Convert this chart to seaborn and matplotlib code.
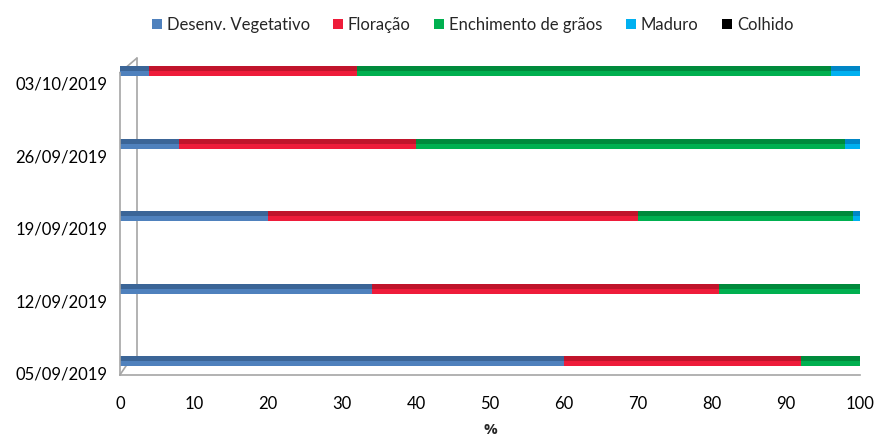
import numpy as np
import matplotlib
matplotlib.use("Agg")
import matplotlib.pyplot as plt
from matplotlib.patches import Patch
import seaborn as sns

# data (% of area per crop stage)
dates = ['03/10/2019', '26/09/2019', '19/09/2019', '12/09/2019', '05/09/2019']
desenv = [4, 8, 20, 34, 60]
floracao = [28, 32, 50, 47, 32]
enchimento = [64, 58, 29, 19, 8]
maduro = [4, 2, 1, 0, 0]
colhido = [0, 0, 0, 0, 0]

stages = ['Desenv. Vegetativo', 'Floração', 'Enchimento de grãos', 'Maduro', 'Colhido']
series = [desenv, floracao, enchimento, maduro, colhido]
colors = ['#4F81BD', '#EE1C3A', '#00B050', '#00B0F0', '#000000']
darks = ['#3B6597', '#C0142B', '#008A3C', '#0086C6', '#000000']

sns.set_theme(style="white")
plt.rcParams['font.family'] = ['Lato', 'DejaVu Sans']

fig = plt.figure(figsize=(8.75, 4.37), dpi=100)
ax = fig.add_axes([0.137, 0.142, 0.846, 0.725])

vals = np.array(series, dtype=float)
cum = vals.cumsum(axis=0)
starts = cum - vals

# stacked bars: draw cumulative totals from the last stage back to the first
for i in range(len(series) - 1, -1, -1):
    sns.barplot(x=cum[i], y=dates, color=colors[i], width=0.14, orient='h',
                saturation=1, linewidth=0, ax=ax)

# darker upper half for a bit of shading
pos = np.arange(len(dates))
for i in range(len(series)):
    ax.barh(pos - 0.035, vals[i], left=starts[i], height=0.07, color=darks[i],
            linewidth=0)

ax.set_xlim(0, 100)
ax.set_ylim(4.19, -0.18)
ax.set_xticks(range(0, 101, 10))
ax.set_yticks(pos + 0.165)
ax.set_yticklabels(dates)
ax.set_ylabel('')
ax.set_xlabel('%', fontweight='bold', fontsize=11, family=['Open Sans', 'DejaVu Sans'],
              labelpad=8)

for s in ['top', 'right']:
    ax.spines[s].set_visible(False)
for s in ['left', 'bottom']:
    ax.spines[s].set_color('#A6A6A6')
    ax.spines[s].set_linewidth(1.2)
ax.spines['left'].set_bounds(4.19, 0.02)
ax.tick_params(axis='both', direction='out', length=5, color='#A6A6A6',
               labelsize=12, colors='black')
ax.tick_params(axis='x', pad=10)
ax.tick_params(axis='y', pad=4)

# 3D back wall lines
wall = dict(color='#A6A6A6', lw=1.2, clip_on=False, zorder=0)
ax.plot([2.3, 2.3], [4.01, -0.18], **wall)
ax.plot([0, 2.3], [0.02, -0.18], **wall)
ax.plot([0, 1.2], [4.19, 4.01], **wall)

handles = [Patch(facecolor=c, edgecolor='none') for c in colors]
fig.legend(handles, stages, loc='center', bbox_to_anchor=(0.54, 0.943), ncol=5,
           frameon=False, fontsize=12, handlelength=0.6, handleheight=0.6,
           handletextpad=0.3, columnspacing=1.4)

fig.savefig('out.png', dpi=100)
